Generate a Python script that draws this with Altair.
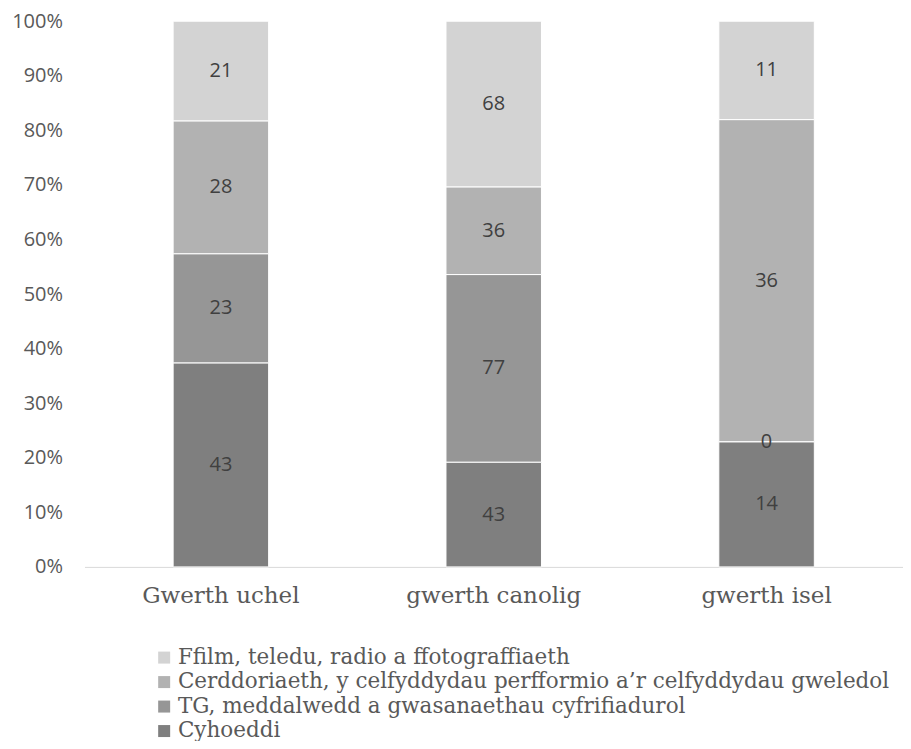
import altair as alt
import pandas as pd

categories = ["Gwerth uchel", "gwerth canolig", "gwerth isel"]
series = [
    "Cyhoeddi",
    "TG, meddalwedd a gwasanaethau cyfrifiadurol",
    "Cerddoriaeth, y celfyddydau perfformio a\u2019r celfyddydau gweledol",
    "Ffilm, teledu, radio a ffotograffiaeth",
]
values = {
    "Cyhoeddi": [43, 43, 14],
    "TG, meddalwedd a gwasanaethau cyfrifiadurol": [23, 77, 0],
    "Cerddoriaeth, y celfyddydau perfformio a\u2019r celfyddydau gweledol": [28, 36, 36],
    "Ffilm, teledu, radio a ffotograffiaeth": [21, 68, 11],
}
colors = ["#7f7f7f", "#969696", "#b2b2b2", "#d3d3d3"]

rows = []
for si, s in enumerate(series):
    for ci, c in enumerate(categories):
        rows.append({"cat": c, "series": s, "value": values[s][ci], "ord": si})
df = pd.DataFrame(rows)

legend_domain = series[::-1]
legend_range = colors[::-1]

base = alt.Chart(df).transform_stack(
    stack="value", groupby=["cat"], as_=["y0", "y1"], offset="normalize",
    sort=[alt.SortField("ord", order="ascending")]
).transform_calculate(mid="(datum.y0 + datum.y1) / 2")

x = alt.X("cat:N", sort=categories, title=None,
          scale=alt.Scale(paddingInner=0.65, paddingOuter=0.325),
          axis=alt.Axis(labelAngle=0, labelFont="DejaVu Serif", labelFontSize=23,
                        labelColor="#595959", labelPadding=18, ticks=False,
                        domainColor="#d9d9d9", domainWidth=1))

bars = base.mark_bar(stroke="white", strokeWidth=1).encode(
    x=x,
    y=alt.Y("y0:Q", scale=alt.Scale(domain=[0, 1]), title=None,
            axis=alt.Axis(format=".0%", values=[i / 10 for i in range(11)],
                          grid=False, domain=False, ticks=False,
                          labelFont="Open Sans", labelFontSize=20,
                          labelColor="#595959", labelPadding=22)),
    y2="y1:Q",
    color=alt.Color("series:N", scale=alt.Scale(domain=legend_domain, range=legend_range),
                    legend=alt.Legend(title=None, orient="none", legendX=69, legendY=626,
                                      symbolType="square", symbolSize=144, symbolStrokeWidth=0,
                                      labelFont="DejaVu Serif", labelFontSize=21.5,
                                      labelColor="#595959", rowPadding=1.5,
                                      labelOffset=3, labelLimit=900, symbolOffset=0)),
)

labels = base.mark_text(font="Open Sans", fontSize=20, color="#404040").encode(
    x=alt.X("cat:N", sort=categories),
    y=alt.Y("mid:Q"),
    text=alt.Text("value:Q"),
)

chart = (bars + labels).properties(
    width=819, height=546,
    autosize=alt.AutoSizeParams(type="none"),
    padding={"left": 76.5, "top": 13, "right": 0, "bottom": 174},
).configure_view(stroke=None)

chart.save("out.html", embed_options={"renderer": "svg", "actions": False})
